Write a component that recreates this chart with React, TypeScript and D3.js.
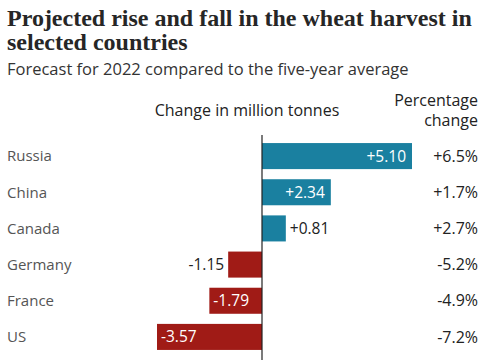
import { useEffect } from "react";
import * as d3 from "d3";

const countries = ["Russia", "China", "Canada", "Germany", "France", "US"];
const changeMt = [5.1, 2.34, 0.81, -1.15, -1.79, -3.57];
const changeLabels = ["+5.10", "+2.34", "+0.81", "-1.15", "-1.79", "-3.57"];
const pctLabels = ["+6.5%", "+1.7%", "+2.7%", "-5.2%", "-4.9%", "-7.2%"];
// where the value label sits: inside the bar or outside it
const labelInside = [true, true, false, false, true, true];

const W = 485;
const H = 360;
const POS = "#1a80a0";
const NEG = "#a01b16";
const SANS = "'Open Sans', 'Noto Sans', sans-serif";
const SERIF = "'Liberation Serif', serif";

export default function App() {
  useEffect(() => {
    document.body.style.margin = "0";
  }, []);

  const x = d3
    .scaleLinear()
    .domain([d3.min(changeMt) as number, d3.max(changeMt) as number])
    .range([157, 412]);

  const y = d3
    .scaleBand<string>()
    .domain(countries)
    .range([138, 355])
    .paddingInner(0.28)
    .paddingOuter(0.14);

  const x0 = x(0);

  return (
    <svg width={W} height={H} style={{ display: "block", background: "#fff" }}>
      {/* Title */}
      <text x={7} y={26} fontFamily={SERIF} fontWeight="bold" fontSize={24} fill="#262626">
        Projected rise and fall in the wheat harvest in
      </text>
      <text x={7} y={50} fontFamily={SERIF} fontWeight="bold" fontSize={24} fill="#262626">
        selected countries
      </text>
      <text x={7} y={75} fontFamily={SANS} fontSize={16.5} fill="#333">
        Forecast for 2022 compared to the five-year average
      </text>

      {/* Column headers */}
      <text x={247} y={116} textAnchor="middle" fontFamily={SANS} fontSize={16} fill="#222">
        Change in million tonnes
      </text>
      <text x={478} y={106} textAnchor="end" fontFamily={SANS} fontSize={16} fill="#222">
        Percentage
      </text>
      <text x={478} y={126} textAnchor="end" fontFamily={SANS} fontSize={16} fill="#222">
        change
      </text>

      {countries.map((c, i) => {
        const v = changeMt[i];
        const top = y(c) as number;
        const bh = y.bandwidth();
        const cy = top + bh / 2;
        const bx = Math.min(x(v), x0);
        const bw = Math.abs(x(v) - x0);
        const pos = v >= 0;
        let lx: number;
        let anchor: "start" | "end";
        if (labelInside[i]) {
          lx = pos ? x(v) - 6 : x(v) + 4;
          anchor = pos ? "end" : "start";
        } else {
          lx = pos ? x(v) + 4 : x(v) - 4;
          anchor = pos ? "start" : "end";
        }
        return (
          <g key={c}>
            <text x={7} y={cy} dy="0.35em" fontFamily={SANS} fontSize={15} fill="#555">
              {c}
            </text>
            <rect x={bx} y={top} width={bw} height={bh} fill={pos ? POS : NEG} />
            <text
              x={lx}
              y={cy}
              dy="0.35em"
              textAnchor={anchor}
              fontFamily={SANS}
              fontSize={15.5}
              fill={labelInside[i] ? "#fff" : "#222"}
            >
              {changeLabels[i]}
            </text>
            <text
              x={478}
              y={cy}
              dy="0.35em"
              textAnchor="end"
              fontFamily={SANS}
              fontSize={16}
              fill="#222"
            >
              {pctLabels[i]}
            </text>
          </g>
        );
      })}

      {/* Zero line */}
      <line x1={x0} x2={x0} y1={135} y2={H} stroke="#222" strokeWidth={1.2} />
    </svg>
  );
}
